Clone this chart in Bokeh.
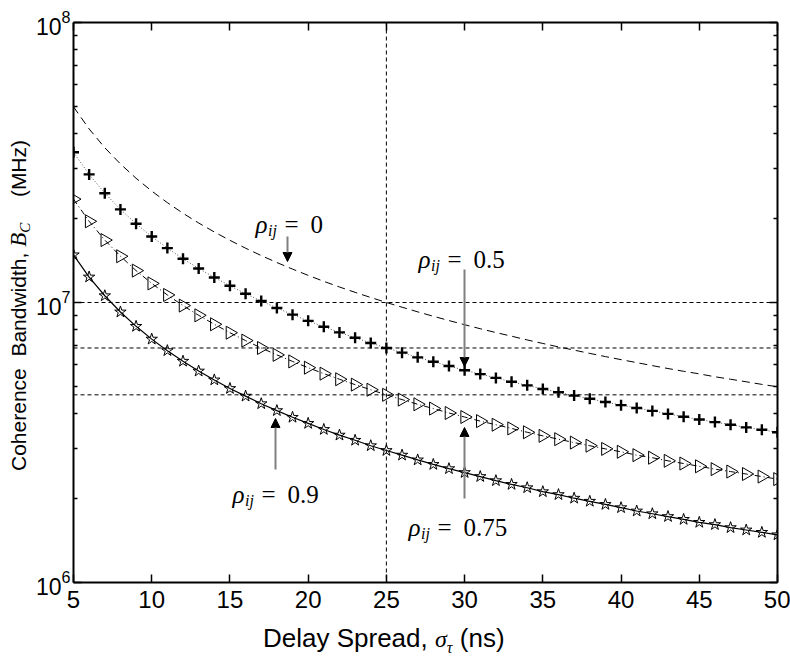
import numpy as np
from bokeh.plotting import figure
from bokeh.layouts import row, column
from bokeh.models import (Range1d, FixedTicker, LinearAxis, LogAxis, Span, Label,
                          Arrow, NormalHead, Div)
from bokeh.embed import file_html
from bokeh.resources import INLINE

# ---------------- data (values in units of 1e6) ----------------
sigma_ns = list(range(5, 51))

bc_rho_0 = [50.0, 41.67, 35.71, 31.25, 27.78, 25.0, 22.73, 20.83, 19.23, 17.86,
            16.67, 15.63, 14.71, 13.89, 13.16, 12.5, 11.90, 11.36, 10.87, 10.42,
            10.0, 9.62, 9.26, 8.93, 8.62, 8.33, 8.06, 7.81, 7.58, 7.35,
            7.14, 6.94, 6.76, 6.58, 6.41, 6.25, 6.10, 5.95, 5.81, 5.68,
            5.56, 5.43, 5.32, 5.21, 5.10, 5.0]

bc_rho_05 = [34.4, 28.67, 24.57, 21.5, 19.11, 17.2, 15.64, 14.33, 13.23, 12.29,
             11.47, 10.75, 10.12, 9.56, 9.05, 8.6, 8.19, 7.82, 7.48, 7.17,
             6.88, 6.62, 6.37, 6.14, 5.93, 5.73, 5.55, 5.38, 5.21, 5.06,
             4.91, 4.78, 4.65, 4.53, 4.41, 4.30, 4.20, 4.10, 4.00, 3.91,
             3.82, 3.74, 3.66, 3.58, 3.51, 3.44]

bc_rho_075 = [23.4, 19.5, 16.71, 14.63, 13.0, 11.7, 10.64, 9.75, 9.0, 8.36,
              7.8, 7.31, 6.88, 6.5, 6.16, 5.85, 5.57, 5.32, 5.09, 4.88,
              4.68, 4.5, 4.33, 4.18, 4.03, 3.9, 3.77, 3.66, 3.55, 3.44,
              3.34, 3.25, 3.16, 3.08, 3.0, 2.93, 2.85, 2.79, 2.72, 2.66,
              2.6, 2.54, 2.49, 2.44, 2.39, 2.34]

bc_rho_09 = [14.8, 12.33, 10.57, 9.25, 8.22, 7.4, 6.73, 6.17, 5.69, 5.29,
             4.93, 4.63, 4.35, 4.11, 3.89, 3.7, 3.52, 3.36, 3.22, 3.08,
             2.96, 2.85, 2.74, 2.64, 2.55, 2.47, 2.39, 2.31, 2.24, 2.18,
             2.11, 2.06, 2.0, 1.95, 1.9, 1.85, 1.8, 1.76, 1.72, 1.68,
             1.64, 1.61, 1.57, 1.54, 1.51, 1.48]

unit = 1e6
ref_sigma = 25
x_ticks = [5, 10, 15, 20, 25, 30, 35, 40, 45, 50]
y_ticks = [1e6, 1e7, 1e8]

SANS = "Liberation Sans"
MATH = "serif"

# ---------------- layout geometry ----------------
W, H = 790, 656
FL, FR, FT, FB = 73, 777, 22, 582      # plot frame in page pixels
YDIV_W = 32                             # strip for the y label
XDIV_H = 32                             # strip for the x label
PW, PH = W - YDIV_W, H - XDIV_H

p = figure(width=PW, height=PH, output_backend="svg", toolbar_location=None,
           x_range=Range1d(5, 50), y_range=Range1d(1e6, 1e8), y_axis_type="log",
           min_border_left=FL - YDIV_W, min_border_right=W - FR, min_border_top=FT,
           min_border_bottom=PH - FB)
p.xgrid.visible = False
p.ygrid.visible = False
p.outline_line_color = None
p.background_fill_color = "white"
p.border_fill_color = "white"

y_minor = [k * 10 ** e for e in (6, 7) for k in range(2, 10)]


def style_axis(ax, labels=True, size="26px", standoff=8):
    ax.axis_line_width = 2
    ax.axis_line_color = "black"
    ax.major_tick_in = 8
    ax.major_tick_out = 0
    ax.minor_tick_in = 4
    ax.minor_tick_out = 0
    ax.major_tick_line_width = 1.5
    ax.minor_tick_line_width = 1.5
    ax.major_tick_line_color = "black"
    ax.minor_tick_line_color = "black"
    ax.major_label_text_font = SANS
    ax.major_label_text_color = "black"
    if labels:
        ax.major_label_text_font_size = size
        ax.major_label_standoff = standoff
    else:
        ax.major_label_text_font_size = "1px"
        ax.major_label_text_alpha = 0.0
        ax.major_label_standoff = 0


xax = p.xaxis[0]
xax.ticker = FixedTicker(ticks=x_ticks)
style_axis(xax, True, "24px", 8)
yax = p.yaxis[0]
yax.ticker = FixedTicker(ticks=y_ticks, minor_ticks=y_minor)
style_axis(yax, True, "23px", 3)

top = LinearAxis(ticker=FixedTicker(ticks=x_ticks))
style_axis(top, False)
p.add_layout(top, "above")
right = LogAxis(ticker=FixedTicker(ticks=y_ticks, minor_ticks=y_minor))
style_axis(right, False)
p.add_layout(right, "right")

# ---------------- reference lines ----------------
idx = sigma_ns.index(ref_sigma)
p.add_layout(Span(location=ref_sigma, dimension="height", line_color="black",
                  line_width=1, line_dash="4 3"))
for series in (bc_rho_0, bc_rho_05, bc_rho_075):
    p.add_layout(Span(location=series[idx] * unit, dimension="width",
                      line_color="black", line_width=1, line_dash="4 3"))

# ---------------- curves ----------------
ys0 = [v * unit for v in bc_rho_0]
ys05 = [v * unit for v in bc_rho_05]
ys075 = [v * unit for v in bc_rho_075]
ys09 = [v * unit for v in bc_rho_09]

p.line(sigma_ns, ys0, line_color="black", line_width=1, line_dash="8 5")
p.line(sigma_ns, ys05, line_color="#555555", line_width=1, line_dash="1 2")
p.line(sigma_ns, ys075, line_color="black", line_width=1, line_dash="6 3 1 3")
p.line(sigma_ns, ys09, line_color="black", line_width=1.2)

p.scatter(sigma_ns, ys05, marker="cross", size=11, line_width=2.4, line_color="black")
p.scatter(sigma_ns, ys075, marker="triangle", angle=-np.pi / 2, size=13,
          fill_color=None, line_color="black", line_width=1)
p.scatter(sigma_ns, ys09, marker="star", size=12, fill_color=None,
          line_color="black", line_width=1)


# ---------------- annotation placement (page pixel -> data) ----------------
def X(px):
    return 5 + (px - FL) * 45.0 / (FR - FL)


def Y(py):
    return 10 ** (8 - 2.0 * (py - FT) / (FB - FT))


def lab(px, py, text, font, size, style="normal"):
    p.add_layout(Label(x=X(px), y=Y(py), text=text, text_font=font,
                       text_font_size=f"{size}px", text_font_style=style,
                       text_baseline="alphabetic", text_align="left",
                       text_color="black"))


def rho_label(px, py, num):
    lab(px, py, "ρ", MATH, 25, "italic")
    lab(px + 12.5, py + 6, "ij", MATH, 16, "italic")
    lab(px + 29, py, "=", MATH, 25)
    lab(px + 55, py, num, MATH, 25)


rho_label(255, 224, "0")
rho_label(418, 259, "0.5")
rho_label(232, 494, "0.9")
rho_label(408, 527, "0.75")

arrows = [(287, 236, 261), (464, 269, 366), (275, 469, 418), (464, 498, 427)]
for ax_px, y0, y1 in arrows:
    p.add_layout(Arrow(x_start=X(ax_px), y_start=Y(y0), x_end=X(ax_px), y_end=Y(y1),
                       line_color="#808080", line_width=2,
                       end=NormalHead(size=9, fill_color="black", line_color="black",
                                      line_width=1)))

# ---------------- axis titles (rich text in HTML strips) ----------------
serif_css = "font-family:'Liberation Serif',serif;font-style:italic;"
ylabel_html = (
    f'<div style="position:relative;width:{YDIV_W}px;height:{PH}px;overflow:visible;">'
    '<div style="position:absolute;left:8px;top:471px;transform-origin:0 0;'
    'transform:rotate(-90deg);white-space:pre;line-height:21px;'
    "font-family:'Liberation Sans',sans-serif;font-size:21px;color:black;\">"
    'Coherence  Bandwidth, '
    f'<span style="{serif_css}font-size:23px;">B</span>'
    f'<span style="{serif_css}font-size:15px;position:relative;top:4px;'
    'padding-right:14px;">C</span>'
    '  (MHz)</div></div>'
)
xlabel_html = (
    f'<div style="position:relative;width:{W}px;height:{XDIV_H}px;overflow:visible;">'
    '<div style="position:absolute;left:263px;top:1px;white-space:pre;'
    "line-height:26px;font-family:'Liberation Sans',sans-serif;font-size:26px;"
    'color:black;">'
    'Delay Spread, '
    f'<span style="{serif_css}font-size:24px;">σ</span>'
    f'<span style="{serif_css}font-size:16px;position:relative;top:6px;">τ</span>'
    ' (ns)</div></div>'
)

ydiv = Div(text=ylabel_html, width=YDIV_W, height=PH, margin=(0, 0, 0, 0),
           styles={"overflow": "visible"})
xdiv = Div(text=xlabel_html, width=W, height=XDIV_H, margin=(0, 0, 0, 0),
           styles={"overflow": "visible"})

layout = column(row(ydiv, p, spacing=0), xdiv, spacing=0)

open("out.html", "w").write(file_html(layout, INLINE))
